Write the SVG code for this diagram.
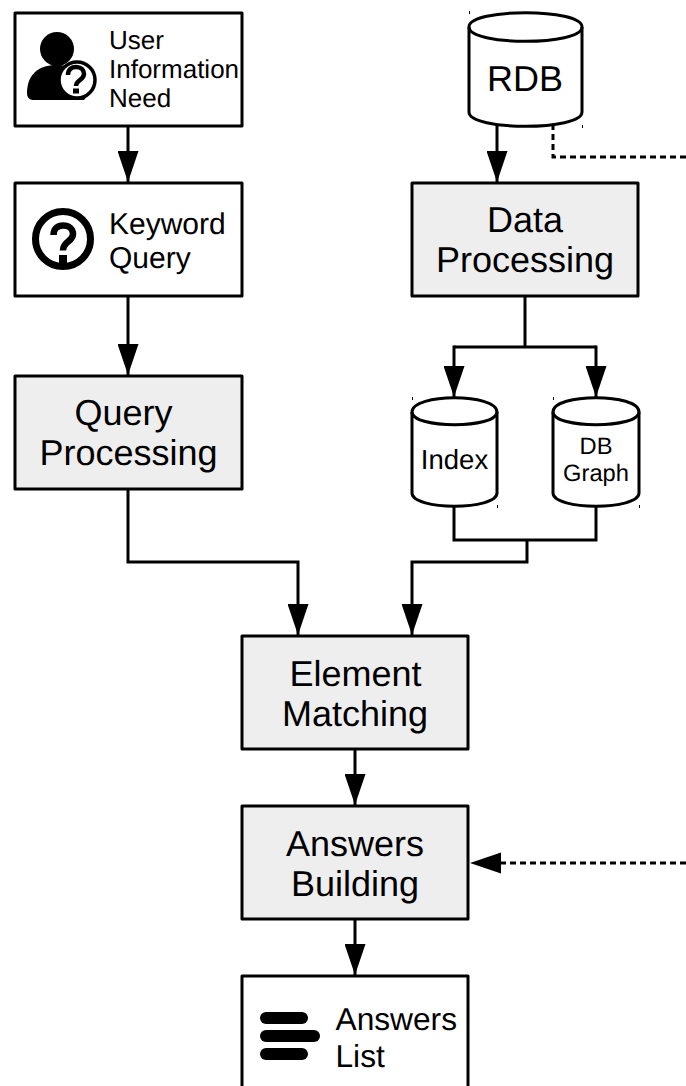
<svg xmlns="http://www.w3.org/2000/svg" width="686" height="1086" viewBox="0 0 686 1086">
<style>
text{font-family:"Liberation Sans",Arial,sans-serif;fill:#000;text-rendering:geometricPrecision}
.box{fill:#fff;stroke:#000;stroke-width:3;stroke-linejoin:round}
.proc{fill:#eeeeee;stroke:#000;stroke-width:3;stroke-linejoin:round}
.cyl{fill:#fff;stroke:#000;stroke-width:3}
.c{fill:none;stroke:#000;stroke-width:3}
.d{fill:none;stroke:#000;stroke-width:3;stroke-dasharray:6 4}
.l{font-size:36px;text-anchor:middle}
.m{font-size:30px}
.s{font-size:26px}
.a{font-size:31.700px}
.q{fill:none;stroke:#000}
.t{stroke:#000;stroke-width:1}
</style>
<defs>
<marker id="arrow" markerUnits="userSpaceOnUse" markerWidth="31" markerHeight="21" refX="31" refY="10.5" orient="auto" viewBox="0 0 31 21"><path d="M0 0L31 10.5L0 21z" fill="#000"/></marker>
</defs>
<g id="connectors">
<path class="c" d="M128 126V182" marker-end="url(#arrow)"/>
<path class="c" d="M128 296V375" marker-end="url(#arrow)"/>
<path class="c" d="M128 489V562H298V635" marker-end="url(#arrow)"/>
<path class="c" d="M497 124V182" marker-end="url(#arrow)"/>
<path class="d" d="M553 124V157H686"/>
<path class="c" d="M525 296V347"/>
<path class="c" d="M454 347H596"/>
<path class="c" d="M454 345.500V397" marker-end="url(#arrow)"/>
<path class="c" d="M596 345.500V397" marker-end="url(#arrow)"/>
<path class="c" d="M454 505V540H596V505"/>
<path class="c" d="M527 540V562H412V635" marker-end="url(#arrow)"/>
<path class="c" d="M355 749V805" marker-end="url(#arrow)"/>
<path class="c" d="M355 919V975" marker-end="url(#arrow)"/>
<path class="d" d="M686 863H500"/>
<path d="M470 863L501 852.500V873.500z" fill="#000"/>
</g>
<g id="user-need">
<rect class="box" x="15" y="13" width="227" height="113"/>
<circle cx="57" cy="49" r="17"/>
<path d="M27 93C27 75 38 65 57 65C70 65 80 69 88 78L88 95L84 100H33C29 100 27 97 27 93z"/>
<circle cx="77" cy="80" r="18" fill="#fff" stroke="#000" stroke-width="3.500"/>
<path class="q" stroke-width="4.500" d="M68 75C68 69 72 67 76 67C81 67 84 70 84 74C84 80 76 80 76 86"/>
<rect x="73" y="88.500" width="6" height="5"/>
<text class="s" x="109" y="49">User</text>
<text class="s" x="109" y="78">Information</text>
<text class="s" x="109" y="107">Need</text>
</g>
<g id="keyword-query">
<rect class="box" x="15" y="183" width="227" height="113"/>
<circle cx="63" cy="239" r="27.500" fill="#fff" stroke="#000" stroke-width="7"/>
<path class="q" stroke-width="6.500" d="M53.500 235C53.500 228 58 225.500 63 225.500C69 225.500 73 229 73 234C73 242 63 241 63 250.500"/>
<rect x="59" y="255" width="8" height="8"/>
<text class="m" x="109" y="234">Keyword</text>
<text class="m" x="109" y="268">Query</text>
</g>
<g id="query-processing">
<rect class="proc" x="15" y="376" width="227" height="113"/>
<text class="l" x="123.500" y="425">Query</text>
<text class="l" x="128.500" y="465">Processing</text>
</g>
<g id="rdb">
<path class="cyl" d="M469 27C469 8 582 8 582 27V112C582 131 469 131 469 112z"/>
<path class="c" d="M469 27C469 46 582 46 582 27"/>
<text class="l" x="525" y="91">RDB</text>
<path class="t" d="M469.500 11V14M582.500 125V128"/>
</g>
<g id="data-processing">
<rect class="proc" x="412" y="183" width="226" height="113"/>
<text class="l" x="525" y="232">Data</text>
<text class="l" x="525" y="272">Processing</text>
</g>
<g id="index">
<path class="cyl" d="M412 412C412 393 497 393 497 412V493C497 510.500 412 510.500 412 493z"/>
<path class="c" d="M412 412C412 429 497 429 497 412"/>
<text x="454.500" y="469" font-size="27.500" text-anchor="middle">Index</text>
<path class="t" d="M412.500 397V400M497.500 505V508"/>
</g>
<g id="db-graph">
<path class="cyl" d="M553 412C553 393 639 393 639 412V493C639 510.500 553 510.500 553 493z"/>
<path class="c" d="M553 412C553 429 639 429 639 412"/>
<text x="596" y="454" font-size="23.700" text-anchor="middle">DB</text>
<text x="596" y="481" font-size="23.700" text-anchor="middle">Graph</text>
<path class="t" d="M553.500 397V400M639.500 505V508"/>
</g>
<g id="element-matching">
<rect class="proc" x="242" y="636" width="226" height="113"/>
<text class="l" x="355.500" y="686">Element</text>
<text class="l" x="355" y="726">Matching</text>
</g>
<g id="answers-building">
<rect class="proc" x="242" y="806" width="226" height="113"/>
<text class="l" x="355" y="856">Answers</text>
<text class="l" x="355" y="896">Building</text>
</g>
<g id="answers-list">
<rect class="box" x="242" y="976" width="226" height="113"/>
<rect x="260" y="1012" width="48" height="12" rx="6"/>
<rect x="260" y="1030" width="60" height="12" rx="6"/>
<rect x="260" y="1048" width="48" height="12" rx="6"/>
<text class="a" x="335.500" y="1030">Answers</text>
<text class="a" x="335.500" y="1067">List</text>
</g>
</svg>
